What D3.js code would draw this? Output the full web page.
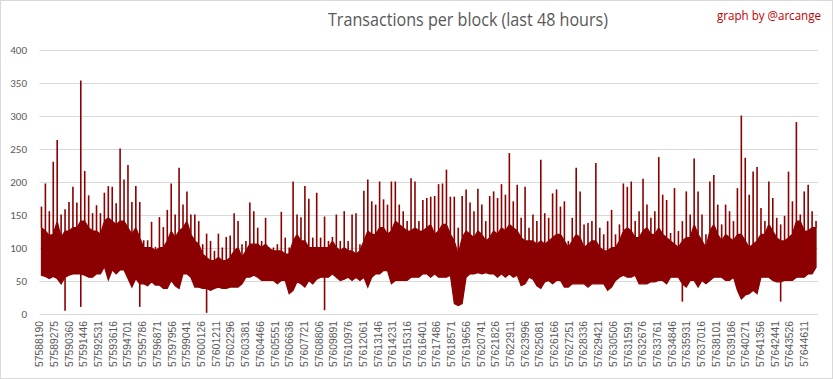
<!DOCTYPE html>
<html><head><meta charset="utf-8">
<script src="https://cdn.jsdelivr.net/npm/d3@7"></script>
<style>
html,body{margin:0;padding:0;background:#fff;}
svg{display:block;}
</style></head>
<body>
<svg id="chart" width="833" height="379"></svg>
<script>
// ---- data ----
const firstBlock = 57588190;
const blocksPerBucket = 290;
const yTicks = [0, 50, 100, 150, 200, 250, 300, 350, 400];
const blockLabels = [57588190,57589275,57590360,57591446,57592531,57593616,57594701,57595786,57596871,57597956,
57599041,57600126,57601211,57602296,57603381,57604466,57605551,57606636,57607721,57608806,57609891,57610976,
57612061,57613146,57614231,57615316,57616401,57617486,57618571,57619656,57620741,57621826,57622911,57623996,
57625081,57626166,57627251,57628336,57629421,57630506,57631591,57632676,57633761,57634846,57635931,57637016,
57638101,57639186,57640271,57641356,57642441,57643526,57644611];
// highest transactions per block inside each bucket of blocks
const peakTx = [
162,197,155,230,263,150,158,169,192,168,353,216,179,152,164,152,183,193,192,167,250,203,225,169,193,169,111,111,139,101,146,131,157,
197,150,221,165,185,150,150,140,105,121,110,95,121,100,116,118,152,140,105,110,168,155,130,110,145,100,100,105,154,115,100,200,150,
146,193,174,115,183,115,147,110,116,150,110,155,110,150,152,105,186,203,170,165,200,173,165,200,200,165,155,140,205,200,140,172,175,
177,178,196,197,218,177,177,130,178,188,168,155,189,165,140,178,185,175,196,180,243,170,195,145,192,130,150,140,233,152,145,182,188,
162,170,110,145,221,185,135,137,140,228,130,120,140,157,120,135,197,192,200,140,155,204,165,145,155,237,180,172,122,190,125,140,185,
150,235,185,150,120,200,210,165,135,165,155,140,190,300,236,180,215,222,160,140,200,175,145,135,148,215,170,290,150,185,195,155,140];
// upper edge of the dense band in each bucket
const bodyTopTx = [
130,125,118,120,140,115,125,125,130,130,140,140,130,125,125,120,140,145,140,135,140,140,130,120,130,115,100,100,100,95,100,100,110,
125,115,125,130,140,120,110,105,90,85,80,80,85,80,80,85,95,100,85,95,105,105,105,100,105,98,95,95,95,90,90,110,120,
110,110,100,100,100,100,100,100,110,100,95,100,95,95,90,95,110,125,120,120,130,130,120,125,140,135,130,125,125,130,125,125,130,
135,120,125,135,135,120,110,90,115,125,120,115,125,120,110,115,125,120,130,125,135,130,125,115,110,110,110,105,110,105,110,115,120,
120,110,100,110,120,115,100,105,110,110,100,95,95,100,100,110,125,130,125,115,115,125,130,120,120,130,120,115,110,105,100,110,115,
115,135,120,110,100,125,135,120,110,120,115,110,120,120,110,100,105,110,120,120,135,125,115,110,110,115,120,140,140,125,125,130,130];
// lower edge of the band in each bucket
const lowTx = [
58,56,53,56,53,45,55,58,60,60,60,58,55,55,60,60,71,51,66,60,66,66,53,40,53,45,45,42,48,43,43,38,38,
50,42,38,60,60,55,40,40,38,38,35,38,40,38,38,40,40,40,45,55,55,58,55,50,50,50,50,45,50,50,30,35,48,
45,40,50,45,52,55,55,55,60,55,50,52,55,50,55,50,55,40,55,60,60,65,65,45,50,50,50,50,55,55,55,60,60,
55,60,55,55,55,58,15,12,15,55,60,60,62,60,62,60,60,55,60,55,60,55,58,42,45,55,52,42,38,48,50,45,50,
50,40,40,45,45,45,45,40,45,45,45,45,35,40,50,55,58,55,55,58,45,45,45,48,48,50,50,45,55,55,55,45,40,
50,50,40,50,45,50,55,55,55,50,50,55,35,22,28,30,35,30,55,55,55,50,48,48,50,50,50,55,55,55,60,60,70];
// isolated very low blocks: bucket index and value
const dipBucket = [6, 10, 25, 42, 72, 163, 188];
const dipTx     = [4, 10, 10, 1, 5, 18, 18];

// ---- drawing ----
const W = 833, H = 379;
const svg = d3.select("#chart");
const N = peakTx.length;
const lastBlock = firstBlock + N * blocksPerBucket;
const x = d3.scaleLinear().domain([firstBlock, lastBlock]).range([39.5, 818]);
const y = d3.scaleLinear().domain([0, 400]).range([313.5, 49.5]);
const red = "#8b0000", grey = "#595959";

svg.append("rect").attr("x", 0.5).attr("y", 0.5).attr("width", W - 1).attr("height", H - 1)
  .attr("fill", "#fff").attr("stroke", "#d9d9d9");

// gridlines
svg.append("g").selectAll("line").data(yTicks).join("line")
  .attr("x1", 39.5).attr("x2", 818).attr("y1", d => Math.round(y(d)) + 0.5).attr("y2", d => Math.round(y(d)) + 0.5)
  .attr("stroke", "#d9d9d9").attr("stroke-width", 1);

// y axis labels
const yAxis = d3.axisLeft(y).tickValues(yTicks).tickSize(0).tickPadding(0);
const ga = svg.append("g").attr("transform", "translate(27,0)").call(yAxis);
ga.select(".domain").remove();
ga.selectAll("text").attr("fill", grey).attr("font-family", "Carlito, 'Liberation Sans', Arial, sans-serif").attr("font-size", 11);

// band
const mid = i => x(firstBlock + (i + 0.5) * blocksPerBucket);
const pts = d3.range(N).map(i => ({i, top: bodyTopTx[i], low: lowTx[i]}));
const area = d3.area().curve(d3.curveLinear)
  .x(d => mid(d.i)).y0(d => y(d.low)).y1(d => y(d.top));
svg.append("path").datum(pts).attr("d", area).attr("fill", red).attr("stroke", red).attr("stroke-width", 1.2);

// spikes
svg.append("g").selectAll("line").data(d3.range(N)).join("line")
  .attr("x1", mid).attr("x2", mid)
  .attr("y1", i => y(bodyTopTx[i])).attr("y2", i => y(peakTx[i]))
  .attr("stroke", red).attr("stroke-width", 1.6);
svg.append("g").selectAll("line").data(d3.range(dipBucket.length)).join("line")
  .attr("x1", k => mid(dipBucket[k])).attr("x2", k => mid(dipBucket[k]))
  .attr("y1", k => y(lowTx[dipBucket[k]])).attr("y2", k => y(dipTx[k]))
  .attr("stroke", red).attr("stroke-width", 1.6);

// x labels
svg.append("g").selectAll("text").data(blockLabels).join("text")
  .attr("transform", d => `translate(${x(d)},321) rotate(-90)`)
  .attr("dy", "0.35em").attr("text-anchor", "end")
  .attr("fill", grey).attr("font-family", "'Liberation Sans', Arial, sans-serif").attr("font-size", 10.5)
  .attr("textLength", 46).attr("lengthAdjust", "spacingAndGlyphs")
  .text(d => d);

// titles
svg.append("text").attr("x", 468).attr("y", 26).attr("text-anchor", "middle")
  .attr("fill", grey).attr("font-family", "'Liberation Sans Narrow', 'Open Sans', Arial, sans-serif").attr("font-size", 18)
  .attr("textLength", 280).attr("lengthAdjust", "spacingAndGlyphs")
  .text("Transactions per block (last 48 hours)");
svg.append("text").attr("x", 821).attr("y", 20).attr("text-anchor", "end")
  .attr("fill", "#c00000").attr("font-family", "'Liberation Sans Narrow', 'Open Sans', Arial, sans-serif").attr("font-size", 12.5)
  .attr("textLength", 104).attr("lengthAdjust", "spacingAndGlyphs")
  .text("graph by @arcange");
</script>
</body></html>
